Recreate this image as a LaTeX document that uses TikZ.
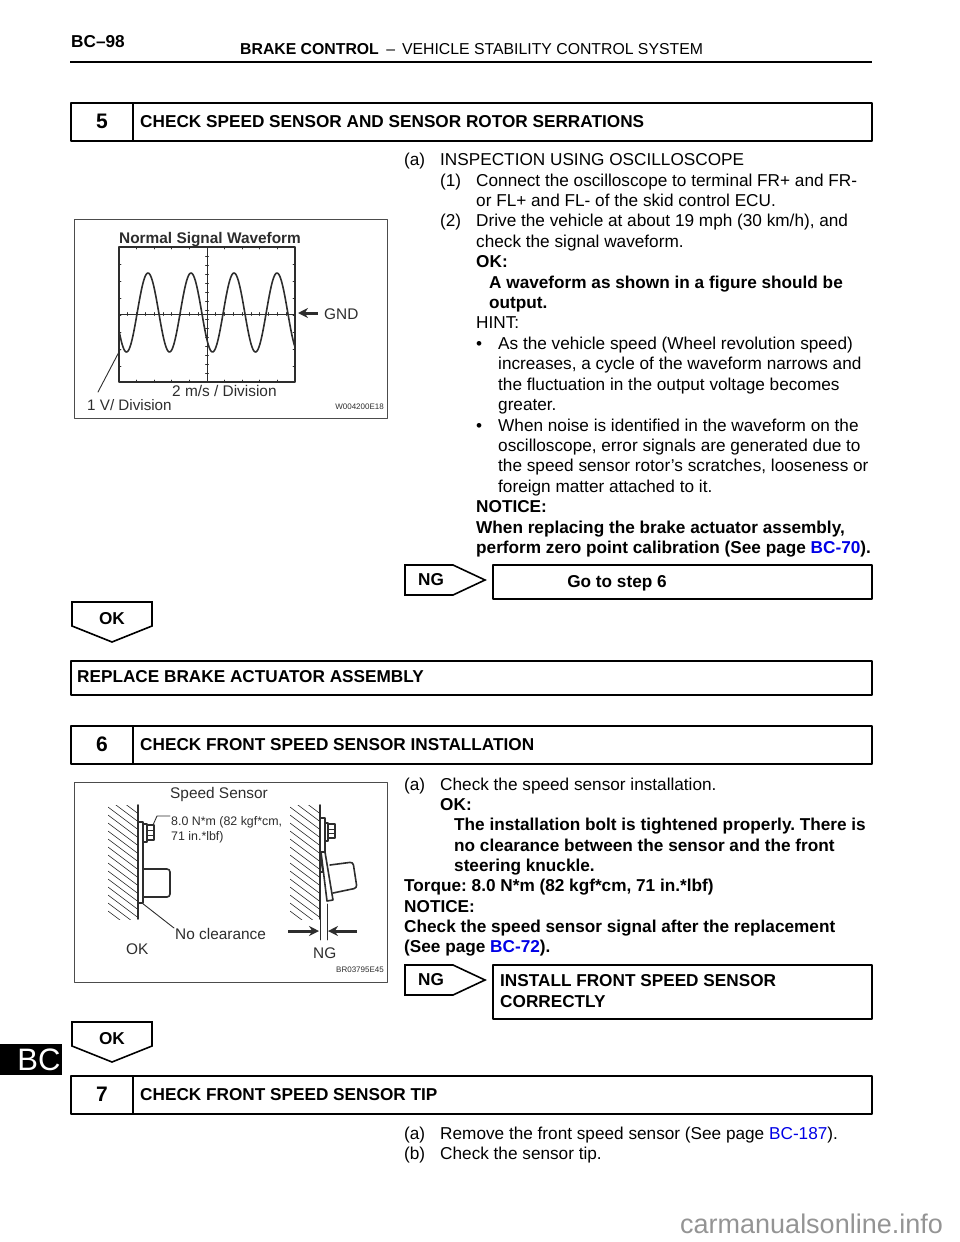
\documentclass[tikz,border=0pt]{standalone}
\usepackage{fontspec}
\usetikzlibrary{arrows.meta}
\setmainfont{Liberation Sans}
\definecolor{linkblue}{RGB}{0,0,230}
\definecolor{figgray}{RGB}{45,45,45}
\newcommand{\fsize}[1]{\fontsize{#1}{#1}\selectfont}
\begin{document}
\frenchspacing
\begin{tikzpicture}[x=1pt, y=-1pt, line join=round, line cap=round, >=stealth,
	txt/.style={anchor=base west, inner sep=0pt, font=\fsize{17.2}},
	txb/.style={txt, font=\fsize{17.2}\bfseries},
	num/.style={inner sep=0pt, font=\fsize{21}\bfseries},
	box/.style={draw, line width=1.4pt},
	tag/.style={draw, line width=1.6pt, line join=miter},
	fig/.style={draw=figgray!85, line width=1pt},
	figtxt/.style={anchor=base west, inner sep=0pt, text=figgray, font=\fsize{15.4}},
	code/.style={anchor=base east, inner sep=0pt, text=figgray, font=\fsize{8}},
	leader/.style={figgray, line width=0.9pt},
	wave/.style={figgray, line width=1.6pt},
	fat/.style={-{Stealth[length=10pt,width=10pt]}, figgray, line width=3pt, line cap=butt}]
	\useasboundingbox (0,0) rectangle (960,1242);
	% page head
	\node[txb] (pagenum) at (71,47) {BC--98};
	\node[txb, font=\fsize{15.8}\bfseries] (headbold) at (240,54) {BRAKE CONTROL};
	\node[txt, font=\fsize{15.8}] (headrest) at (headbold.base east) {\ \,--\ \,VEHICLE STABILITY CONTROL SYSTEM};
	\draw[line width=2.4pt, line cap=butt] (70,62)--(872,62);
	% side tab
	\fill (0,1044) rectangle (62,1075);
	\node[inner sep=0pt, text=white, font=\fsize{31}] (tab) at (39,1060) {BC};
	% step boxes
	\foreach \n/\ya/\yb/\ttl in {5/103/141/CHECK SPEED SENSOR AND SENSOR ROTOR SERRATIONS, 6/726/764/CHECK FRONT SPEED SENSOR INSTALLATION, 7/1076/1114/CHECK FRONT SPEED SENSOR TIP}{
		\draw[box] (71,\ya) rectangle (872,\yb);
		\draw[box] (133,\ya)--(133,\yb);
		\node[num] (num\n) at (102,{(\ya+\yb)/2-0.5}) {\n};
		\node[txb] (ttl\n) at (140,{(\ya+\yb)/2+5}) {\ttl};
	}
	\draw[box] (493,565) rectangle (872,599);
	\node[txb, anchor=base] (goto) at (617,587) {Go to step 6};
	\draw[box] (71,661) rectangle (872,695);
	\node[txb] (replace) at (77,682) {REPLACE BRAKE ACTUATOR ASSEMBLY};
	\draw[box] (493,965) rectangle (872,1019);
	\node[txb] (install) at (500,986) {INSTALL FRONT SPEED SENSOR};
	\node[txb] (correct) at (500,1007) {CORRECTLY};
	% NG and OK tags
	\foreach \y in {565,965}{
		\draw[tag] (405,\y)--(453,\y)--(485,\y+15)--(453,\y+30)--(405,\y+30)--cycle;
		\node[txb, anchor=center] (ng\y) at (431,\y+15) {NG};
	}
	\foreach \y in {602,1022}{
		\draw[tag] (72,\y)--(152,\y)--(152,\y+24)--(112,\y+40)--(72,\y+24)--cycle;
		\node[txb, anchor=center] (ok\y) at (112,\y+17) {OK};
	}
	% body text
	\foreach \x/\y/\s [count=\i] in {
		404/165/(a), 440/165/INSPECTION USING OSCILLOSCOPE,
		440/186/(1), 476/186/Connect the oscilloscope to terminal FR+ and FR-,
		476/206/{or FL+ and FL- of the skid control ECU.},
		440/226/(2), 476/226/{Drive the vehicle at about 19 mph (30 km/h), and},
		476/247/check the signal waveform.,
		476/328/HINT:,
		476/349/•, 498/349/As the vehicle speed (Wheel revolution speed),
		498/369/{increases, a cycle of the waveform narrows and},
		498/390/{the fluctuation in the output voltage becomes},
		498/410/greater.,
		476/431/•, 498/431/When noise is identified in the waveform on the,
		498/451/{oscilloscope, error signals are generated due to},
		498/471/{the speed sensor rotor's scratches, looseness or},
		498/492/foreign matter attached to it.,
		404/790/(a), 440/790/Check the speed sensor installation.,
		404/1139/(a), 440/1139/{Remove the front speed sensor (See page \textcolor{linkblue}{BC-187}).},
		404/1159/(b), 440/1159/Check the sensor tip.}
		\node[txt] (reg\i) at (\x,\y) {\s};
	\foreach \x/\y/\s [count=\i] in {
		476/267/OK:, 489/288/A waveform as shown in a figure should be, 489/308/output.,
		476/512/NOTICE:, 476/533/{When replacing the brake actuator assembly,},
		476/553/{perform zero point calibration (See page \textcolor{linkblue}{BC-70}).},
		440/810/OK:, 454/830/The installation bolt is tightened properly. There is,
		454/851/no clearance between the sensor and the front, 454/871/steering knuckle.,
		404/891/{Torque: 8.0 N*m (82 kgf*cm, 71 in.*lbf)}, 404/912/NOTICE:,
		404/932/Check the speed sensor signal after the replacement,
		404/952/{(See page \textcolor{linkblue}{BC-72}).}}
		\node[txb] (bld\i) at (\x,\y) {\s};
	% waveform figure
	\draw[fig] (74,219) rectangle (387,418);
	\node[figtxt, font=\fsize{15.4}\bfseries] (wavetitle) at (119,243) {Normal Signal Waveform};
	\draw[leader, line width=1.3pt] (119,247) rectangle (295,382);
	\draw[leader] (207,247)--(207,382);
	\draw[leader] (119,314)--(295,314);
	\foreach \i in {0,...,20}
		\draw[leader] (119+\i*8.8,312.5)--(119+\i*8.8,315.5);
	\foreach \i in {0,...,15}
		\draw[leader] (205.5,247+\i*9)--(208.5,247+\i*9);
	\foreach \i in {1,...,9}{
		\draw[leader] (119+\i*17.6,382)--(119+\i*17.6,380);
		\draw[leader] (119+\i*17.6,247)--(119+\i*17.6,249);
	}
	\foreach \i in {1,...,7}{
		\draw[leader] (119,247+\i*17)--(121,247+\i*17);
		\draw[leader] (295,247+\i*17)--(293,247+\i*17);
	}
	\draw[wave, samples=200, domain=119.5:295, smooth, variable=\x] plot (\x,{312.5-39.5*cos(8.372*(\x-148))});
	\draw[fat] (318,313)--(298,313);
	\node[figtxt] (gnd) at (324,319) {GND};
	\node[figtxt] (msdiv) at (172,396) {2 m/s / Division};
	\node[figtxt, font=\fsize{15.2}] (vdiv) at (87,410) {1 V/ Division};
	\draw[leader] (98,392)--(120,350);
	\node[code] (code1) at (384,409) {W004200E18};
	% sensor figure
	\draw[fig] (74,782) rectangle (387,982);
	\node[figtxt, anchor=base] (sensor) at (219,798) {Speed Sensor};
	\begin{scope}
		\clip (108,805) rectangle (138,919);
		\foreach \i in {0,...,17}
			\draw[leader, line width=0.6pt] (108,{775+\i*8})--(148,{805+\i*8});
	\end{scope}
	\begin{scope}
		\clip (290,805) rectangle (320,919);
		\foreach \i in {0,...,17}
			\draw[leader, line width=0.6pt] (290,{775+\i*8})--(330,{805+\i*8});
	\end{scope}
	\draw[wave] (138,805)--(138,919);
	\draw[wave] (320,805)--(320,919);
	% OK side
	\draw[wave] (138,822) rectangle (143,903);
	\draw[wave] (143,824) rectangle (147,842);
	\draw[wave] (147,825) rectangle (154,840);
	\draw[leader] (147,830)--(154,830) (147,835)--(154,835);
	\draw[wave, rounded corners=3pt] (143,869)--(170,869)--(170,897)--(143,897);
	\draw[leader] (153,825)--(157,816)--(170,816);
	\node[figtxt, font=\fsize{12.4}] (torquea) at (171,825) {8.0 N*m (82 kgf*cm,};
	\node[figtxt, font=\fsize{12.4}] (torqueb) at (171,840) {71 in.*lbf)};
	\node[figtxt] (noclear) at (175,939) {No clearance};
	\draw[leader] (142,903)--(174,928);
	\node[figtxt] (oktxt) at (126,954) {OK};
	% NG side
	\draw[wave] (320,818)--(325,818)--(325,853);
	\draw[wave] (325,823) rectangle (328,841);
	\draw[wave] (328,824) rectangle (335,838);
	\draw[leader] (328,829)--(335,829) (328,833)--(335,833);
	\draw[wave, fill=white] (321,852)--(325,852)--(333,900)--(327,901)--cycle;
	\draw[wave] (320,853)--(323,872)--(320,872);
	\draw[wave, rounded corners=3pt] (330,865)--(353,862)--(357,888)--(333,893);
	\draw[leader] (320,919)--(320,940);
	\draw[leader] (327,904)--(327,940);
	\draw[fat] (288,931)--(319,931);
	\draw[fat] (357,931)--(328,931);
	\node[figtxt] (ngtxt) at (313,958) {NG};
	\node[code] (code2) at (384,972) {BR03795E45};
	% site mark
	\node[txt, text=black!42, font=\fsize{27}] (site) at (680,1233) {carmanualsonline.info};
\end{tikzpicture}
\end{document}
